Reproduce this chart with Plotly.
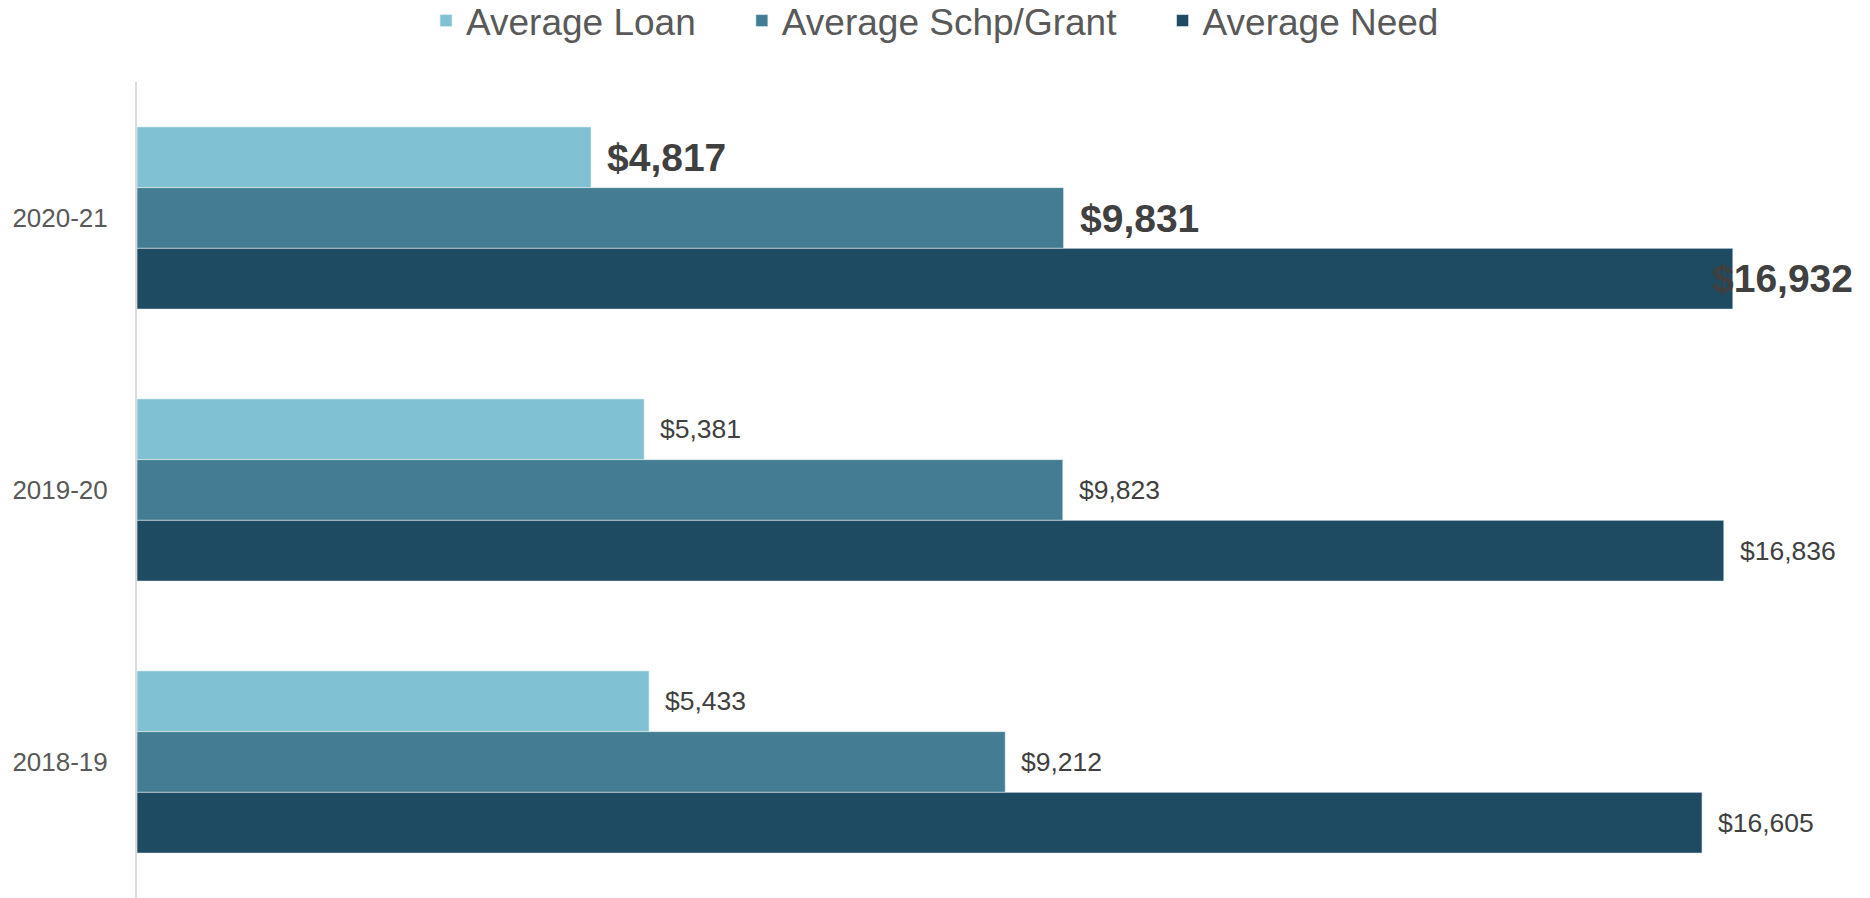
import plotly.graph_objects as go

categories = ["2020-21", "2019-20", "2018-19"]
series_names = ["Average Loan", "Average Schp/Grant", "Average Need"]
avg_loan = [4817, 5381, 5433]
avg_grant = [9831, 9823, 9212]
avg_need = [16932, 16836, 16605]
series_values = [avg_loan, avg_grant, avg_need]
colors = ["#80C2D4", "#447D93", "#1E4B62"]

W, H = 1870, 898
M_L, M_T = 137, 82
BARGAP = 0.33
plot_h = H - M_T
bar_px = plot_h / len(categories) * (1 - BARGAP) / len(series_names)
LEGEND_PAD = "\u00a0" * 4
LEGEND_CENTER_PX = 21

fig = go.Figure()
for i, (name, vals, col) in enumerate(zip(series_names, series_values, colors)):
    label = name + (LEGEND_PAD if i < len(series_names) - 1 else "")
    fig.add_trace(go.Bar(
        y=categories, x=vals, name=label, orientation="h",
        marker=dict(color=col, line=dict(color="#E6F0F4", width=0.6)),
        hoverinfo="skip",
    ))

annotations = []
for si, vals in enumerate(series_values):
    yshift = (1 - si) * bar_px
    for ci, (cat, v) in enumerate(zip(categories, vals)):
        latest = ci == 0
        xshift = 14
        if latest and si == len(series_values) - 1:
            xshift = -23
        annotations.append(dict(
            x=v, y=cat, xref="x", yref="y", text=f"${v:,}",
            showarrow=False, xanchor="left", yanchor="middle",
            xshift=xshift, yshift=yshift,
            font=dict(family="Liberation Sans, Arial, sans-serif",
                      size=39 if latest else 26.5,
                      color="#404040",
                      weight="bold" if latest else "normal"),
        ))

fig.update_layout(
    width=W, height=H,
    margin=dict(l=M_L, r=0, t=M_T, b=0, pad=0),
    barmode="group", bargap=BARGAP, bargroupgap=0,
    plot_bgcolor="white", paper_bgcolor="white",
    font=dict(family="Liberation Sans, Arial, sans-serif", color="#595959"),
    legend=dict(orientation="h", x=0.5, xanchor="center", xref="container",
                y=1 - LEGEND_CENTER_PX / H, yref="container", yanchor="middle",
                font=dict(size=37, color="#595959"),
                traceorder="normal", itemwidth=30),
    annotations=annotations,
    showlegend=True,
)
fig.update_xaxes(range=[0, (W - M_L) / 0.09425], autorange=False,
                 showticklabels=False,
                 showgrid=False, zeroline=False, showline=False)
fig.update_yaxes(autorange="reversed", showgrid=False, zeroline=False,
                 showline=True, linecolor="#D9D9D9", linewidth=2,
                 ticks="", ticklabelstandoff=22,
                 tickfont=dict(size=26, color="#595959"))

fig.write_html("out.html", config={"displayModeBar": False},
               post_script="document.body.style.margin='0';document.body.style.overflow='hidden';")
